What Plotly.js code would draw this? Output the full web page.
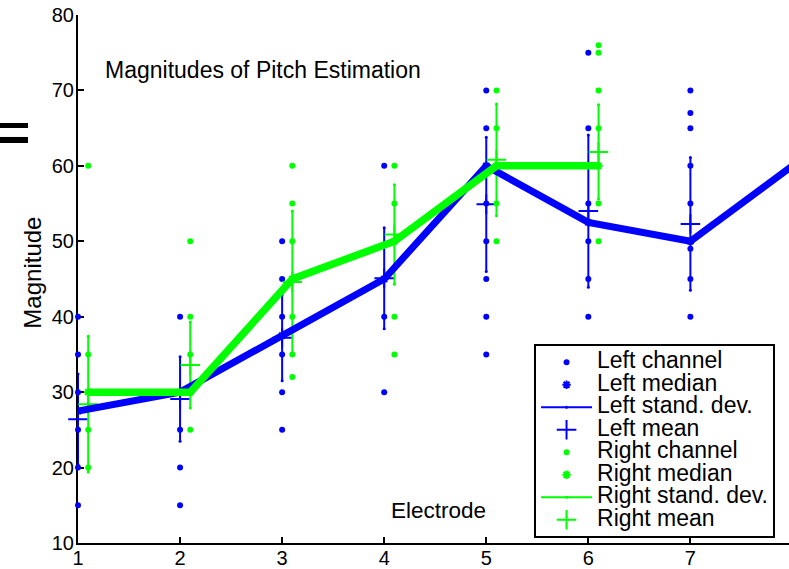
<!DOCTYPE html>
<html>
<head>
<meta charset="utf-8">
<script src="https://cdn.plot.ly/plotly-3.0.1.min.js"></script>
<style>html,body{margin:0;padding:0;background:#fff;}#chart{width:789px;height:569px;}</style>
</head>
<body>
<div id="chart"></div>
<script>
// ---- data ----
const electrodes = [1, 2, 3, 4, 5, 6, 7];
const electrodesRight = [1, 2, 3, 4, 5, 6];
const medianElectrodes = [1, 2, 3, 4, 5, 6, 7, 8];

const leftChannel = [
  [15, 20, 25, 30, 35, 40],
  [15, 20, 25, 30, 40],
  [25, 30, 35, 40, 45, 50],
  [30, 40, 45, 60],
  [35, 40, 45, 50, 55, 60, 65, 70],
  [40, 45, 50, 55, 65, 75],
  [40, 45, 49, 55, 60, 65, 67, 70]
];
const rightChannel = [
  [20, 25, 30, 35, 60],
  [25, 30, 35, 40, 50],
  [32, 35, 40, 45, 50, 55, 60],
  [35, 40, 50, 55, 60],
  [50, 55, 60, 65, 70],
  [50, 55, 65, 70, 75, 76]
];
const leftMedian = [27.5, 30, 37.5, 45, 60, 52.5, 50, 60];
const rightMedian = [30, 30, 45, 50, 60, 60];
const leftMean = [26.4, 29.1, 37.2, 45.1, 54.9, 54.0, 52.3];
const leftStd = [6.0, 5.6, 5.7, 6.7, 8.9, 10.1, 8.8];
const rightMean = [28.4, 33.6, 44.6, 50.9, 60.8, 61.85];
const rightStd = [9.0, 5.7, 9.4, 6.6, 7.4, 6.25];
const xTicks = [1, 2, 3, 4, 5, 6, 7, 8];
const yTicks = [10, 20, 30, 40, 50, 60, 70, 80];

// ---- styling ----
const BLUE = '#0000ff', GREEN = '#00ff00';
const RIGHT_OFFSET = 0.1;
const FONT = 'Liberation Sans, Arial, Helvetica, sans-serif';
const LEG = s => '<span style="font-size:23px">' + s + '</span>';

function flatten(groups, xs, off) {
  const x = [], y = [];
  groups.forEach((g, i) => g.forEach(v => { x.push(xs[i] + off); y.push(v); }));
  return {x, y};
}
function stdSegments(xs, mean, sd, off) {
  const x = [], y = [];
  xs.forEach((e, i) => { x.push(e + off, e + off, null); y.push(mean[i] - sd[i], mean[i] + sd[i], null); });
  return {x, y};
}
const shift = (xs, off) => xs.map(v => v + off);

const lc = flatten(leftChannel, electrodes, 0);
const rc = flatten(rightChannel, electrodesRight, RIGHT_OFFSET);
const ls = stdSegments(electrodes, leftMean, leftStd, 0);
const rs = stdSegments(electrodesRight, rightMean, rightStd, RIGHT_OFFSET);

const traces = [
  {x: lc.x, y: lc.y, mode: 'markers', name: LEG('Left channel'), cliponaxis: false,
   marker: {symbol: 'circle', size: 6, color: BLUE}},
  {x: medianElectrodes, y: leftMedian, mode: 'markers', name: LEG('Left median'),
   marker: {symbol: 'asterisk-open', size: 7, color: BLUE, line: {color: BLUE, width: 2}}},
  {x: ls.x, y: ls.y, mode: 'lines+markers', name: LEG('Left stand. dev.'),
   line: {color: BLUE, width: 2}, marker: {size: 3, color: BLUE}},
  {x: electrodes, y: leftMean, mode: 'markers', name: LEG('Left mean'), cliponaxis: false,
   marker: {symbol: 'cross-thin-open', size: 14, color: BLUE, line: {color: BLUE, width: 2}}},
  {x: rc.x, y: rc.y, mode: 'markers', name: LEG('Right channel'),
   marker: {symbol: 'circle', size: 6, color: GREEN}},
  {x: shift(electrodesRight, RIGHT_OFFSET), y: rightMedian, mode: 'markers', name: LEG('Right median'),
   marker: {symbol: 'asterisk-open', size: 7, color: GREEN, line: {color: GREEN, width: 2}}},
  {x: rs.x, y: rs.y, mode: 'lines+markers', name: LEG('Right stand. dev.'),
   line: {color: GREEN, width: 2}, marker: {size: 3, color: GREEN}},
  {x: shift(electrodesRight, RIGHT_OFFSET), y: rightMean, mode: 'markers', name: LEG('Right mean'),
   marker: {symbol: 'cross-thin-open', size: 14, color: GREEN, line: {color: GREEN, width: 2}}},
  {x: medianElectrodes, y: leftMedian, mode: 'lines', showlegend: false, hoverinfo: 'skip',
   line: {color: BLUE, width: 7}},
  {x: shift(electrodesRight, RIGHT_OFFSET), y: rightMedian, mode: 'lines', showlegend: false, hoverinfo: 'skip',
   line: {color: GREEN, width: 7.5}}
];

const layout = {
  width: 789, height: 569,
  margin: {l: 78, r: 0, t: 15, b: 26, pad: 0},
  paper_bgcolor: '#fff', plot_bgcolor: '#fff',
  font: {family: FONT, color: '#000', size: 20},
  showlegend: true,
  title: {text: 'Magnitudes of Pitch Estimation', font: {family: FONT, size: 23, color: '#000'},
          xref: 'paper', x: 0.038, xanchor: 'left', yref: 'container', y: 1 - 70 / 569, yanchor: 'middle'},
  xaxis: {range: [1, 7.966], tickvals: xTicks, ticktext: xTicks.map(String), ticks: 'inside', ticklen: 6,
          tickwidth: 2, tickcolor: '#000', showline: true, linecolor: '#000', linewidth: 2, showgrid: false,
          zeroline: false, layer: 'below traces', tickfont: {size: 20, family: FONT}, automargin: false,
          ticklabelstandoff: -4},
  yaxis: {range: [10, 80], tickvals: yTicks, ticktext: yTicks.map(String), ticks: 'inside', ticklen: 6,
          tickwidth: 2, tickcolor: '#000', showline: true, linecolor: '#000', linewidth: 2, showgrid: false,
          zeroline: false, layer: 'below traces', tickfont: {size: 20, family: FONT}, automargin: false,
          ticklabelstandoff: -2},
  legend: {x: 0.6414, y: 0.3769, xanchor: 'left', yanchor: 'top', bgcolor: '#fff', bordercolor: '#000',
           borderwidth: 2, font: {size: 15, family: FONT, color: '#000'}, itemwidth: 51, tracegroupgap: 0},
  annotations: [
    {text: 'Electrode', xref: 'paper', yref: 'paper', x: 0.507, y: 0.0625, xanchor: 'center', yanchor: 'middle',
     showarrow: false, font: {size: 22.5, family: FONT, color: '#000'}},
    {text: 'Magnitude', xref: 'paper', yref: 'paper', x: -0.064, y: 0.513, xanchor: 'center', yanchor: 'middle',
     textangle: -90, showarrow: false, font: {size: 24, family: FONT, color: '#000'}}
  ],
  shapes: [
    {type: 'rect', xref: 'paper', yref: 'paper', x0: -0.1097, x1: -0.0703, y0: 0.786, y1: 0.7955,
     fillcolor: '#000', line: {width: 0}},
    {type: 'rect', xref: 'paper', yref: 'paper', x0: -0.1097, x1: -0.0703, y0: 0.7576, y1: 0.769,
     fillcolor: '#000', line: {width: 0}}
  ]
};

Plotly.newPlot('chart', traces, layout, {staticPlot: true, displayModeBar: false});
</script>
</body>
</html>
